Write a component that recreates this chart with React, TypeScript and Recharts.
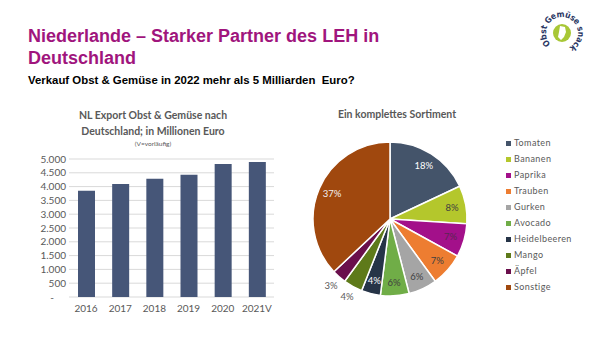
import { BarChart, Bar, XAxis, YAxis, CartesianGrid, PieChart, Pie, Cell, Legend } from "recharts";

// Export NL -> DE, Mio. Euro
const years = ["2016", "2017", "2018", "2019", "2020", "2021V"];
const exportValues = [3850, 4090, 4280, 4430, 4820, 4890];
const yTicks = [0, 500, 1000, 1500, 2000, 2500, 3000, 3500, 4000, 4500, 5000];

// Sortiment
const products = ["Tomaten", "Bananen", "Paprika", "Trauben", "Gurken", "Avocado", "Heidelbeeren", "Mango", "Äpfel", "Sonstige"];
const shares = [18, 8, 7, 7, 6, 6, 4, 4, 3, 37];
const productColors = ["#44546A", "#B4C72C", "#A3108A", "#ED7D31", "#A5A5A5", "#70AD47", "#263447", "#5E7A1A", "#6A0F4C", "#A0480E"];

const barData = years.map((year, i) => ({ year, value: exportValues[i] }));
const pieData = products.map((name, i) => ({ name, value: shares[i] }));

const FONT = "Lato, 'Open Sans', sans-serif";
const GRAY = "#595959";
const RAD = Math.PI / 180;
const outsideLabels = ["Mango", "Äpfel"];
const labelFill: Record<string, string> = {
  Tomaten: "#ffffff",
  Bananen: "#404040",
  Paprika: "#5a2552",
  Trauben: "#404040",
  Gurken: "#404040",
  Avocado: "#404040",
  Heidelbeeren: "#ffffff",
  Sonstige: "#f2f2f2",
};

const fmt = (v: number) => (v === 0 ? "-" : String(v).replace(/\B(?=(\d{3})+(?!\d))/g, "."));

function YTick({ x, y, payload }: any) {
  const v = payload.value as number;
  return (
    <text x={v === 0 ? x - 12 : x} y={y} dy={3.5} textAnchor="end" fill={GRAY} fontSize={10} fontFamily={FONT}>
      {fmt(v)}
    </text>
  );
}

function PieLabel(props: any) {
  const { cx, cy, midAngle, outerRadius, percent, index } = props;
  const name = products[index];
  const out = outsideLabels.includes(name);
  const r = out ? outerRadius + 12 : outerRadius * 0.82;
  const x = cx + r * Math.cos(-midAngle * RAD);
  const y = cy + r * Math.sin(-midAngle * RAD);
  return (
    <text x={x} y={y} fill={out ? GRAY : labelFill[name]} textAnchor="middle" dominantBaseline="central" fontSize={9.5} fontFamily={FONT}>
      {Math.round(percent * 100)}%
    </text>
  );
}

// legend keeps the slice order (recharts would sort it by name)
function LegendList() {
  return (
    <div style={{ fontFamily: FONT, fontSize: 9, color: GRAY, letterSpacing: 0.4 }}>
      {products.map((p, i) => (
        <div key={p} style={{ height: 16, lineHeight: "16px", display: "flex", alignItems: "center" }}>
          <span style={{ width: 5, height: 5, background: productColors[i], marginRight: 3 }} />
          {p}
        </div>
      ))}
    </div>
  );
}

function Logo() {
  return (
    <svg width={46} height={46} viewBox="0 0 46 46" style={{ position: "absolute", left: 539, top: 10 }}>
      <defs>
        <path id="ring" d="M 11.7 34.3 A 16 16 0 1 1 34.3 34.3 A 16 16 0 0 1 11.7 34.3" />
      </defs>
      <circle cx={23} cy={23} r={9} fill="#A8C736" />
      <path d="M21 16 L26 17 L27 22 L25 27 L22 30 L19 27 L20 22 Z" fill="#ffffff" />
      <text fontSize={8.5} fontWeight={700} fill="#2B3763" fontFamily="'DejaVu Sans Condensed', sans-serif" letterSpacing={-0.3}>
        <textPath href="#ring">Obst Gemüse snack</textPath>
      </text>
    </svg>
  );
}

export default function App() {
  return (
    <div style={{ position: "fixed", left: 0, top: 0, width: 600, height: 338, background: "#fff", overflow: "hidden" }}>
      <div style={{ position: "absolute", left: 28, top: 25, fontFamily: "'Liberation Sans', Arial, sans-serif", fontWeight: 700, fontSize: 18, lineHeight: "22px", color: "#A0157D" }}>
        Niederlande – Starker Partner des LEH in<br />Deutschland
      </div>
      <div style={{ position: "absolute", left: 28, top: 74, fontFamily: "'Liberation Sans', Arial, sans-serif", fontWeight: 700, fontSize: 11.4, color: "#000" }}>
        Verkauf Obst &amp; Gemüse in 2022 mehr als 5 Milliarden&nbsp; Euro?
      </div>
      <Logo />

      <div style={{ position: "absolute", left: 33, top: 107, width: 240, textAlign: "center", fontFamily: FONT, fontWeight: 700, fontSize: 10.5, lineHeight: "16px", color: GRAY }}>
        NL Export Obst &amp; Gemüse nach<br />Deutschland; in Millionen Euro
        <div style={{ fontSize: 6.5, lineHeight: "10px", fontWeight: 400 }}>(V=vorläufig)</div>
      </div>
      <div style={{ position: "absolute", left: 20, top: 150 }}>
        <BarChart width={265} height={170} data={barData} margin={{ top: 9, right: 11, bottom: 0, left: 0 }}>
          <CartesianGrid vertical={false} stroke="#D9D9D9" />
          <XAxis dataKey="year" axisLine={false} tickLine={false} tickSize={0} tickMargin={8} height={23} tick={{ fill: GRAY, fontSize: 10, fontFamily: FONT }} />
          <YAxis domain={[0, 5000]} ticks={yTicks} interval={0} axisLine={false} tickLine={false} tickSize={0} tickMargin={3} width={49} tick={<YTick />} />
          <Bar dataKey="value" fill="#465678" barSize={17} isAnimationActive={false} />
        </BarChart>
      </div>

      <div style={{ position: "absolute", left: 290, top: 108, width: 214, textAlign: "center", fontFamily: FONT, fontWeight: 700, fontSize: 10.5, color: GRAY }}>
        Ein komplettes Sortiment
      </div>
      <div style={{ position: "absolute", left: 290, top: 100 }}>
        <PieChart width={310} height={230} margin={{ top: 0, right: 0, bottom: 0, left: 0 }}>
          <Pie
            data={pieData}
            dataKey="value"
            nameKey="name"
            cx={100}
            cy={119}
            outerRadius={77}
            startAngle={90}
            endAngle={-270}
            stroke="#ffffff"
            strokeWidth={1.5}
            labelLine={false}
            label={PieLabel}
            isAnimationActive={false}
          >
            {pieData.map((d, i) => (
              <Cell key={d.name} fill={productColors[i]} />
            ))}
          </Pie>
          <Legend content={<LegendList />} wrapperStyle={{ position: "absolute", left: 216, top: 35, width: 94, height: "auto" }} />
        </PieChart>
      </div>
    </div>
  );
}
